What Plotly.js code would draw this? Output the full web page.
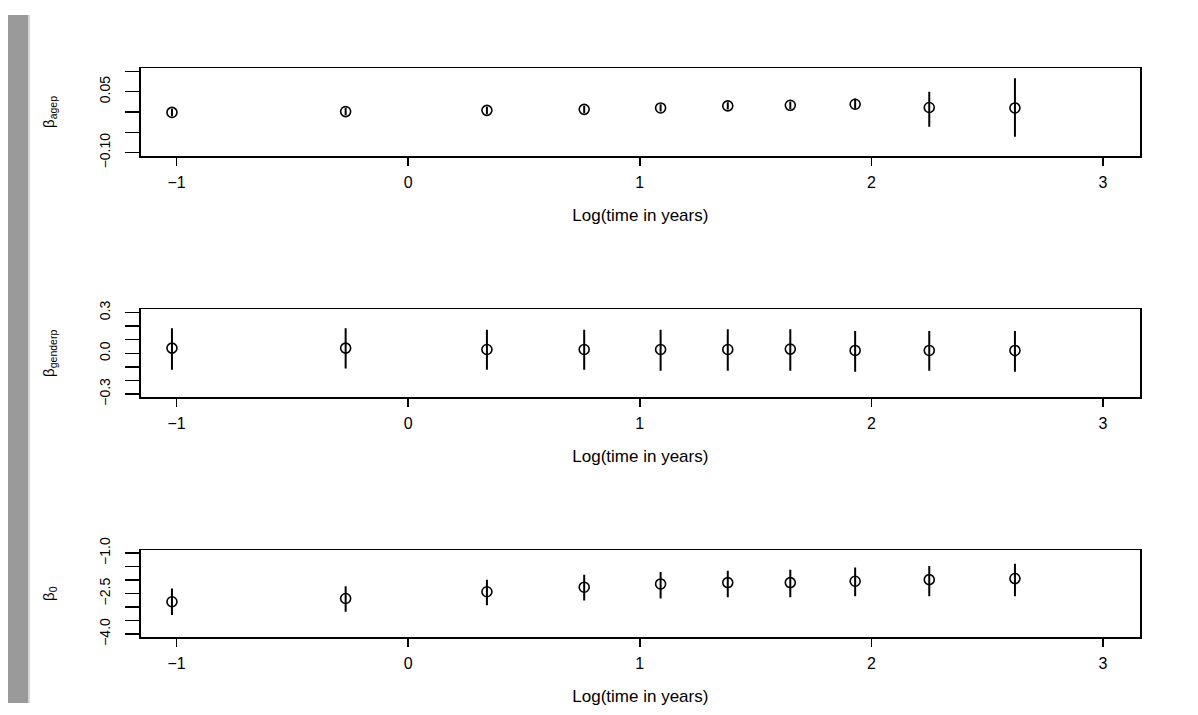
<!DOCTYPE html>
<html>
<head>
<meta charset="utf-8">
<script src="https://cdn.plot.ly/plotly-3.0.1.min.js"></script>
<style>html,body{margin:0;padding:0;background:#fff;}#chart{width:1198px;height:715px;}</style>
</head>
<body>
<div id="chart"></div>
<script>
// ---- data ----
const logTime = [-1.02, -0.27, 0.34, 0.76, 1.09, 1.38, 1.65, 1.93, 2.25, 2.62];

const agepEst = [-0.001, 0.001, 0.004, 0.0065, 0.010, 0.015, 0.0165, 0.019, 0.011, 0.010];
const agepLo  = [-0.010, -0.008, -0.005, -0.0025, 0.001, 0.006, 0.0075, 0.008, -0.036, -0.061];
const agepHi  = [0.008, 0.010, 0.013, 0.0155, 0.019, 0.024, 0.0255, 0.033, 0.050, 0.083];

const genderEst = [0.038, 0.038, 0.028, 0.028, 0.028, 0.028, 0.031, 0.021, 0.021, 0.021];
const genderLo  = [-0.121, -0.112, -0.121, -0.121, -0.129, -0.129, -0.129, -0.136, -0.129, -0.136];
const genderHi  = [0.185, 0.185, 0.173, 0.173, 0.173, 0.178, 0.178, 0.165, 0.165, 0.165];

const b0Est = [-2.80, -2.68, -2.43, -2.26, -2.14, -2.09, -2.09, -2.04, -1.98, -1.94];
const b0Lo  = [-3.29, -3.17, -2.93, -2.75, -2.68, -2.63, -2.63, -2.60, -2.60, -2.60];
const b0Hi  = [-2.31, -2.23, -1.98, -1.80, -1.70, -1.65, -1.61, -1.53, -1.47, -1.39];

const xTickVals = [-1, 0, 1, 2, 3];
const xTickText = ['\u22121', '0', '1', '2', '3'];

const agepTickVals = [-0.10, -0.05, 0, 0.05, 0.10];
const agepTickText = ['\u22120.10', '', '', '0.05', ''];
const genderTickVals = [-0.3, -0.2, -0.1, 0, 0.1, 0.2, 0.3];
const genderTickText = ['\u22120.3', '', '', '0.0', '', '', '0.3'];
const b0TickVals = [-4.0, -3.5, -3.0, -2.5, -2.0, -1.5, -1.0];
const b0TickText = ['\u22124.0', '', '', '\u22122.5', '', '', '\u22121.0'];

const xTitle = 'Log(time in years)';
const yTitles = ['\u03b2<sub>agep</sub>', '\u03b2<sub>genderp</sub>', '\u03b2<sub>0</sub>'];

// ---- traces ----
function trace(est, lo, hi, ax) {
  return {
    type: 'scatter', mode: 'markers',
    x: logTime, y: est,
    xaxis: 'x' + ax, yaxis: 'y' + ax,
    marker: {symbol: 'circle-open', size: 10, color: '#000', line: {width: 1.6, color: '#000'}},
    error_y: {
      type: 'data', symmetric: false,
      array: hi.map((h, i) => h - est[i]),
      arrayminus: lo.map((l, i) => est[i] - l),
      width: 0, thickness: 2, color: '#000'
    },
    showlegend: false, hoverinfo: 'x+y'
  };
}

const data = [
  trace(agepEst, agepLo, agepHi, ''),
  trace(genderEst, genderLo, genderHi, '2'),
  trace(b0Est, b0Lo, b0Hi, '3')
];

const W = 1198, H = 715;
const xDom = [140.7 / W, 1140 / W];
function yDom(top, bottom) { return [(H - bottom) / H, (H - top) / H]; }

const font = {family: 'Liberation Sans, Arial, sans-serif', color: '#000'};

function xAxis(anchor) {
  return {
    domain: xDom, anchor: anchor, range: [-1.155, 3.16],
    tickvals: xTickVals, ticktext: xTickText,
    ticks: 'outside', ticklen: 8, tickwidth: 1.5, tickcolor: '#000',
    ticklabelstandoff: 3,
    showline: true, mirror: true, linecolor: '#000', linewidth: 1.5,
    showgrid: false, zeroline: false,
    tickfont: Object.assign({size: 16}, font),
    title: {text: xTitle, font: Object.assign({size: 17}, font), standoff: 19}
  };
}
function yAxis(anchor, dom, range, tv, tt, title) {
  return {
    domain: dom, anchor: anchor, range: range,
    tickvals: tv, ticktext: tt, tickangle: -90,
    ticks: 'outside', ticklen: 14, tickwidth: 1.5, tickcolor: '#000',
    ticklabelstandoff: 10,
    showline: true, mirror: true, linecolor: '#000', linewidth: 1.5,
    showgrid: false, zeroline: false,
    tickfont: Object.assign({size: 14}, font),
    title: {text: title, font: Object.assign({size: 15}, font), standoff: 38}
  };
}

const layout = {
  width: W, height: H,
  margin: {l: 0, r: 0, t: 0, b: 0},
  paper_bgcolor: '#fff', plot_bgcolor: '#fff',
  showlegend: false,
  xaxis: xAxis('y'),
  xaxis2: xAxis('y2'),
  xaxis3: xAxis('y3'),
  yaxis: yAxis('x', yDom(68, 156), [-0.108, 0.108], agepTickVals, agepTickText, yTitles[0]),
  yaxis2: yAxis('x2', yDom(309.3, 397.3), [-0.324, 0.324], genderTickVals, genderTickText, yTitles[1]),
  yaxis3: yAxis('x3', yDom(550, 637.3), [-4.12, -0.88], b0TickVals, b0TickText, yTitles[2]),
  shapes: [
    {type: 'rect', xref: 'paper', yref: 'paper',
     x0: 8 / W, x1: 28 / W, y0: (H - 703) / H, y1: (H - 15) / H,
     fillcolor: '#9a9a9a', line: {width: 0}, layer: 'below'},
    {type: 'rect', xref: 'paper', yref: 'paper',
     x0: 28 / W, x1: 30 / W, y0: (H - 703) / H, y1: (H - 15) / H,
     fillcolor: '#d6d6d6', line: {width: 0}, layer: 'below'}
  ]
};

Plotly.newPlot('chart', data, layout, {displayModeBar: false, staticPlot: true});
</script>
</body>
</html>
